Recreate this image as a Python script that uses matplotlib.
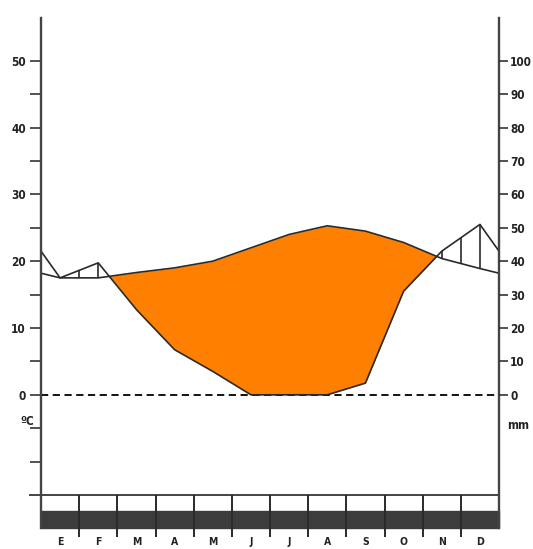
import numpy as np
import matplotlib.pyplot as plt
from matplotlib.patches import Rectangle

# climate diagram (Walter-Lieth style), P = 2T
months = ["E", "F", "M", "A", "M", "J", "J", "A", "S", "O", "N", "D"]
temp = [17.5, 17.5, 18.3, 19.0, 20.0, 22.0, 24.0, 25.3, 24.5, 22.8, 20.4, 18.9]  # ºC
prec = [35, 39.5, 25.5, 13.5, 7, 0, 0, 0, 3.5, 31, 43, 51]  # mm
temp_edge = 18.2   # value at the year boundary (left/right edge)
prec_edge = 43

ink = "#2a2a2a"
orange = "#FF8000"
fnt = dict(fontsize=8.5, fontstretch="condensed", fontweight="bold", color="#222")

fig = plt.figure(figsize=(5.33, 5.49), dpi=100)
ax = fig.add_axes([41/533, 54/549, 458/533, 477/549])
ax.set_xlim(0, 12)
ax.set_ylim(-15, 56.4)
for s in ax.spines.values():
    s.set_visible(False)
ax.set_xticks([])

x = np.r_[0, np.arange(12) + 0.5, 12]
t = np.r_[temp_edge, temp, temp_edge]
p = np.r_[prec_edge, prec, prec_edge] / 2.0

# dry season
ax.fill_between(x, t, p, where=p < t, interpolate=True, color=orange, lw=0, zorder=1)
# humid season: vertical hatching every half month
xs = np.arange(0, 12.01, 0.5)
tt = np.interp(xs, x, t)
pp = np.interp(xs, x, p)
m = pp > tt
ax.vlines(xs[m], tt[m], pp[m], color=ink, lw=1.2, zorder=2)

ax.plot(x, t, color=ink, lw=1.2, zorder=3)
ax.plot(x, p, color=ink, lw=1.2, zorder=3)
ax.axhline(0, color="k", lw=1.3, ls=(0, (4, 2.5)), zorder=2)

# frame
ax.plot([0, 0], [-19.9, 56.4], color="#444", lw=1.7, clip_on=False, zorder=4)
ax.plot([12, 12], [-19.9, 56.4], color="#444", lw=1.7, clip_on=False, zorder=4)
ax.plot([-0.29, 12], [-15, -15], color="#444", lw=1.4, clip_on=False, zorder=4)

# month strip
ax.add_patch(Rectangle((0, -19.9), 12, 2.45, color="#3c3c3c", clip_on=False, zorder=3))
ax.vlines(np.arange(1, 12), -21.3, -15, color=ink, lw=1.4, clip_on=False, zorder=4)
mfnt = dict(fnt, fontsize=7.5)
for i, mth in enumerate(months):
    ax.text(i + 0.5, -22.5, mth, ha="center", va="baseline", clip_on=False, **mfnt)

# left axis (ºC)
yt = np.arange(-10, 51, 5)
ax.set_yticks(yt)
ax.set_yticklabels([str(v) if v >= 0 and v % 10 == 0 else "" for v in yt], **fnt)
ax.tick_params(axis="y", direction="out", length=8, width=1.2, color="#333", pad=3)
ax.text(-0.18, -4.0, "ºC", ha="right", va="center", **fnt)

# right axis (mm)
ax2 = ax.twinx()
ax2.set_ylim(-30, 112.8)
for s in ax2.spines.values():
    s.set_visible(False)
yt2 = np.arange(0, 101, 10)
ax2.set_yticks(yt2)
ax2.set_yticklabels([str(v) for v in yt2], **fnt)
ax2.tick_params(axis="y", direction="out", length=6.5, width=1.2, color="#333", pad=1.5)
ax.text(12.5, -4.6, "mm", ha="center", va="center", **fnt)

fig.savefig("out.png", dpi=100)
